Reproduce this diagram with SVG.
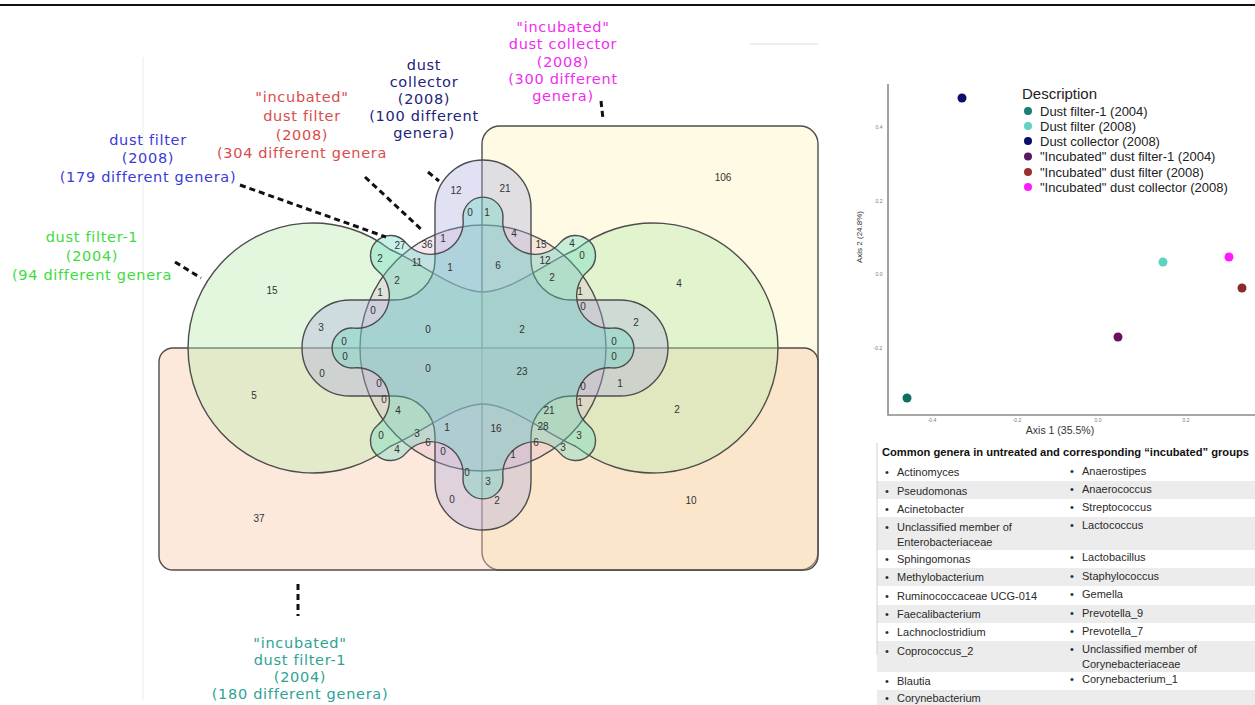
<svg xmlns="http://www.w3.org/2000/svg" width="1255" height="705" viewBox="0 0 1255 705">
<defs>
<style>
.set{stroke:#4d4d4d;stroke-width:1.4;}
.n{font-family:"Liberation Sans",Arial,sans-serif;font-size:10px;fill:#333;text-anchor:middle;}
.lbl{font-family:"DejaVu Sans",Verdana,sans-serif;font-size:14.5px;letter-spacing:0.7px;text-anchor:middle;}
.lead{stroke:#111;stroke-width:3;stroke-dasharray:6 4;fill:none;}
.tick{font-family:"Liberation Sans",Arial,sans-serif;font-size:5px;fill:#777;text-anchor:middle;}
.leg{font-family:"Liberation Sans",Arial,sans-serif;font-size:13px;fill:#222;}
.tb{font-family:"Liberation Sans",Arial,sans-serif;font-size:11px;fill:#2a2a2a;}
.band{fill:#ececec;}
.axis{stroke:#8a8a8a;stroke-width:1.6;fill:none;}
</style>
</defs>
<rect width="1255" height="705" fill="#ffffff"/>
<line x1="0" y1="5" x2="1255" y2="5" stroke="#111" stroke-width="2"/>
<line x1="143" y1="57" x2="143" y2="700" stroke="#ececec" stroke-width="1"/>
<line x1="750" y1="44" x2="818" y2="44" stroke="#dddddd" stroke-width="1"/>

<g id="venn">
<rect id="set-incubated-dust-collector" class="set" x="482" y="126" width="336" height="444" rx="18" fill="#fcf0a8" fill-opacity="0.32"/>
<rect id="set-incubated-dust-filter-1" class="set" x="159" y="348" width="659" height="222" rx="14" fill="#f9c9a8" fill-opacity="0.4"/>
<path id="set-dust-filter-1" class="set" fill="#b8ebb0" fill-opacity="0.4" d="M 483,292 C 511,292 546,262 576,249.5 A 125 125 0 1 1 576,446.5 C 546,434 511,404 483,404 C 455,404 420,434 390,446.5 A 125 125 0 1 1 390,249.5 C 420,262 455,292 483,292 Z"/>
<circle id="set-incubated-dust-filter" class="set" cx="483" cy="348" r="123" fill="#d8a8c8" fill-opacity="0.25"/>
<path id="set-dust-collector" class="set" fill="#a8a8e0" fill-opacity="0.35" d="M 435,260 L 435,208 A 48 48 0 0 1 531,208 L 531,260 A 40 40 0 0 0 571,300 L 620,300 A 48 48 0 0 1 620,396 L 571,396 A 40 40 0 0 0 531,436 L 531,482 A 48 48 0 0 1 435,482 L 435,436 A 40 40 0 0 0 395,396 L 350,396 A 48 48 0 0 1 350,300 L 395,300 A 40 40 0 0 0 435,260 Z"/>
<path id="set-dust-filter-2008" class="set" fill="#5fd6c0" fill-opacity="0.35" d="M 463.08,218.88 A 20 20 0 1 1 502.92,218.88 A 32.45 32.45 0 0 0 560.21,242.61 A 20 20 0 1 1 588.39,270.79 A 32.45 32.45 0 0 0 612.12,328.08 A 20 20 0 1 1 612.12,367.92 A 32.45 32.45 0 0 0 588.39,425.21 A 20 20 0 1 1 560.21,453.39 A 32.45 32.45 0 0 0 502.92,477.12 A 20 20 0 1 1 463.08,477.12 A 32.45 32.45 0 0 0 405.79,453.39 A 20 20 0 1 1 377.61,425.21 A 32.45 32.45 0 0 0 353.88,367.92 A 20 20 0 1 1 353.88,328.08 A 32.45 32.45 0 0 0 377.61,270.79 A 20 20 0 1 1 405.79,242.61 A 32.45 32.45 0 0 0 463.08,218.88 Z"/>
</g>

<g id="venn-counts">
<text class="n" x="456" y="194">12</text><text class="n" x="505" y="192">21</text>
<text class="n" x="470" y="216">0</text><text class="n" x="487" y="216">1</text>
<text class="n" x="723" y="181">106</text>
<text class="n" x="514" y="237">4</text><text class="n" x="443" y="242">1</text>
<text class="n" x="427" y="248">36</text><text class="n" x="400" y="249">27</text>
<text class="n" x="541" y="248">15</text><text class="n" x="572" y="247">4</text>
<text class="n" x="380" y="262">2</text><text class="n" x="417" y="266">11</text>
<text class="n" x="450" y="271">1</text><text class="n" x="498" y="269">6</text>
<text class="n" x="545" y="264">12</text><text class="n" x="582" y="259">0</text>
<text class="n" x="272" y="294">15</text><text class="n" x="397" y="284">2</text>
<text class="n" x="552" y="281">2</text><text class="n" x="679" y="287">4</text>
<text class="n" x="380" y="296">1</text><text class="n" x="580" y="295">1</text>
<text class="n" x="373" y="314">0</text><text class="n" x="583" y="310">0</text>
<text class="n" x="321" y="331">3</text><text class="n" x="636" y="326">2</text>
<text class="n" x="428" y="333">0</text><text class="n" x="522" y="333">2</text>
<text class="n" x="344" y="345">0</text><text class="n" x="614" y="345">0</text>
<text class="n" x="345" y="360">0</text><text class="n" x="614" y="360">0</text>
<text class="n" x="254" y="399">5</text><text class="n" x="322" y="377">0</text>
<text class="n" x="428" y="372">0</text><text class="n" x="522" y="375">23</text>
<text class="n" x="620" y="387">1</text>
<text class="n" x="379" y="387">0</text><text class="n" x="583" y="390">0</text>
<text class="n" x="384" y="403">0</text><text class="n" x="580" y="406">1</text>
<text class="n" x="398" y="414">4</text><text class="n" x="549" y="414">21</text>
<text class="n" x="677" y="413">2</text>
<text class="n" x="447" y="431">1</text><text class="n" x="496" y="432">16</text>
<text class="n" x="417" y="437">3</text><text class="n" x="543" y="430">28</text>
<text class="n" x="381" y="439">0</text><text class="n" x="579" y="439">3</text>
<text class="n" x="428" y="446">6</text><text class="n" x="536" y="446">6</text>
<text class="n" x="443" y="455">0</text><text class="n" x="513" y="458">1</text>
<text class="n" x="397" y="453">4</text><text class="n" x="563" y="451">3</text>
<text class="n" x="467" y="476">0</text><text class="n" x="488" y="485">3</text>
<text class="n" x="452" y="503">0</text><text class="n" x="497" y="504">2</text>
<text class="n" x="259" y="522">37</text><text class="n" x="691" y="504">10</text>
</g>

<g id="connectors">
<line class="lead" x1="175" y1="262" x2="201" y2="278"/>
<line class="lead" x1="240" y1="185" x2="386" y2="237"/>
<line class="lead" x1="365" y1="177" x2="423" y2="231"/>
<line class="lead" x1="428" y1="172" x2="439" y2="181"/>
<line class="lead" x1="601" y1="101" x2="603" y2="119"/>
<line class="lead" x1="298" y1="584" x2="298" y2="616"/>
</g>

<g id="label-dust-filter-1" class="lbl" fill="#3ddc3d">
<text x="92" y="242">dust filter-1</text>
<text x="92" y="261">(2004)</text>
<text x="92" y="280">(94 different genera</text>
</g>
<g id="label-dust-filter-2008" class="lbl" fill="#3b3bd6">
<text x="148" y="145">dust filter</text>
<text x="148" y="163">(2008)</text>
<text x="148" y="182">(179 different genera)</text>
</g>
<g id="label-incubated-dust-filter-2008" class="lbl" fill="#d94c4c">
<text x="302" y="102">"incubated"</text>
<text x="302" y="121">dust filter</text>
<text x="302" y="140">(2008)</text>
<text x="302" y="158">(304 different genera</text>
</g>
<g id="label-dust-collector-2008" class="lbl" fill="#23237a">
<text x="424" y="70">dust</text>
<text x="424" y="87">collector</text>
<text x="424" y="104">(2008)</text>
<text x="424" y="121">(100 different</text>
<text x="424" y="138">genera)</text>
</g>
<g id="label-incubated-dust-collector-2008" class="lbl" fill="#f02cf0">
<text x="563" y="32">"incubated"</text>
<text x="563" y="49">dust collector</text>
<text x="563" y="67">(2008)</text>
<text x="563" y="84">(300 different</text>
<text x="563" y="101">genera)</text>
</g>
<g id="label-incubated-dust-filter-1-2004" class="lbl" fill="#2ea394">
<text x="300" y="648">"incubated"</text>
<text x="300" y="665">dust filter-1</text>
<text x="300" y="682">(2004)</text>
<text x="300" y="699">(180 different genera)</text>
</g>

<g id="pcoa-plot">
<polyline class="axis" points="888,84 888,415 1255,415"/>
<text class="tick" x="879" y="129">0.4</text>
<text class="tick" x="879" y="203">0.2</text>
<text class="tick" x="879" y="276">0.0</text>
<text class="tick" x="878" y="350">-0.2</text>
<text class="tick" x="932" y="422">-0.4</text>
<text class="tick" x="1017" y="422">-0.2</text>
<text class="tick" x="1098" y="422">0.0</text>
<text class="tick" x="1186" y="422">0.2</text>
<text x="1060" y="434" font-family="Liberation Sans, Arial, sans-serif" font-size="10.5" fill="#333" text-anchor="middle">Axis 1 (35.5%)</text>
<text transform="translate(862,237) rotate(-90)" font-family="Liberation Sans, Arial, sans-serif" font-size="8" fill="#333" text-anchor="middle">Axis 2 (24.8%)</text>
<circle cx="962" cy="98" r="4.5" fill="#0d0d6b"/>
<circle cx="1163" cy="262" r="4.5" fill="#5fd3bf"/>
<circle cx="1229" cy="257" r="4.5" fill="#ff1aff"/>
<circle cx="1242" cy="288" r="4.5" fill="#8b2a2a"/>
<circle cx="1118" cy="337" r="4.5" fill="#6b1060"/>
<circle cx="907" cy="398" r="4.5" fill="#0f6e62"/>
</g>

<g id="legend">
<text x="1022" y="99" font-family="Liberation Sans, Arial, sans-serif" font-size="15" fill="#222">Description</text>
<circle cx="1028" cy="111" r="4" fill="#1a7f72"/><text class="leg" x="1040" y="115.5">Dust filter-1 (2004)</text>
<circle cx="1028" cy="126" r="4" fill="#5fd3bf"/><text class="leg" x="1040" y="130.5">Dust filter (2008)</text>
<circle cx="1028" cy="141" r="4" fill="#0d0d6b"/><text class="leg" x="1040" y="145.5">Dust collector (2008)</text>
<circle cx="1028" cy="156.5" r="4" fill="#5a1a5e"/><text class="leg" x="1040" y="161">"Incubated" dust filter-1 (2004)</text>
<circle cx="1028" cy="172" r="4" fill="#9b2f2f"/><text class="leg" x="1040" y="176.5">"Incubated" dust filter (2008)</text>
<circle cx="1028" cy="187" r="4" fill="#ff1aff"/><text class="leg" x="1040" y="191.5">"Incubated" dust collector (2008)</text>
</g>

<g id="genera-table">
<rect class="band" x="877" y="481" width="378" height="18"/>
<rect class="band" x="877" y="517" width="378" height="33"/>
<rect class="band" x="877" y="568" width="378" height="18"/>
<rect class="band" x="877" y="605" width="378" height="18"/>
<rect class="band" x="877" y="641" width="378" height="31"/>
<rect class="band" x="877" y="690" width="378" height="15"/>
<line x1="877" y1="443" x2="877" y2="655" stroke="#cfcfcf" stroke-width="1"/>
<text x="882" y="456" font-family="Liberation Sans, Arial, sans-serif" font-size="10.5" font-weight="bold" fill="#111" textLength="367" lengthAdjust="spacingAndGlyphs">Common genera in untreated and corresponding “incubated” groups</text>
<g class="tb">
<text x="885" y="476">•</text><text x="897" y="476">Actinomyces</text>
<text x="885" y="495">•</text><text x="897" y="495">Pseudomonas</text>
<text x="885" y="513">•</text><text x="897" y="513">Acinetobacter</text>
<text x="885" y="531">•</text><text x="897" y="531">Unclassified member of</text>
<text x="897" y="546">Enterobacteriaceae</text>
<text x="885" y="563">•</text><text x="897" y="563">Sphingomonas</text>
<text x="885" y="581">•</text><text x="897" y="581">Methylobacterium</text>
<text x="885" y="600">•</text><text x="897" y="600">Ruminococcaceae UCG-014</text>
<text x="885" y="618">•</text><text x="897" y="618">Faecalibacterium</text>
<text x="885" y="636">•</text><text x="897" y="636">Lachnoclostridium</text>
<text x="885" y="655">•</text><text x="897" y="655">Coprococcus_2</text>
<text x="885" y="685">•</text><text x="897" y="685">Blautia</text>
<text x="885" y="702">•</text><text x="897" y="702">Corynebacterium</text>
<text x="1070" y="475">•</text><text x="1082" y="475">Anaerostipes</text>
<text x="1070" y="493">•</text><text x="1082" y="493">Anaerococcus</text>
<text x="1070" y="511">•</text><text x="1082" y="511">Streptococcus</text>
<text x="1070" y="529">•</text><text x="1082" y="529">Lactococcus</text>
<text x="1070" y="561">•</text><text x="1082" y="561">Lactobacillus</text>
<text x="1070" y="580">•</text><text x="1082" y="580">Staphylococcus</text>
<text x="1070" y="598">•</text><text x="1082" y="598">Gemella</text>
<text x="1070" y="617">•</text><text x="1082" y="617">Prevotella_9</text>
<text x="1070" y="635">•</text><text x="1082" y="635">Prevotella_7</text>
<text x="1070" y="653">•</text><text x="1082" y="653">Unclassified member of</text>
<text x="1082" y="668">Corynebacteriaceae</text>
<text x="1070" y="683">•</text><text x="1082" y="683">Corynebacterium_1</text>
</g>
</g>
</svg>
